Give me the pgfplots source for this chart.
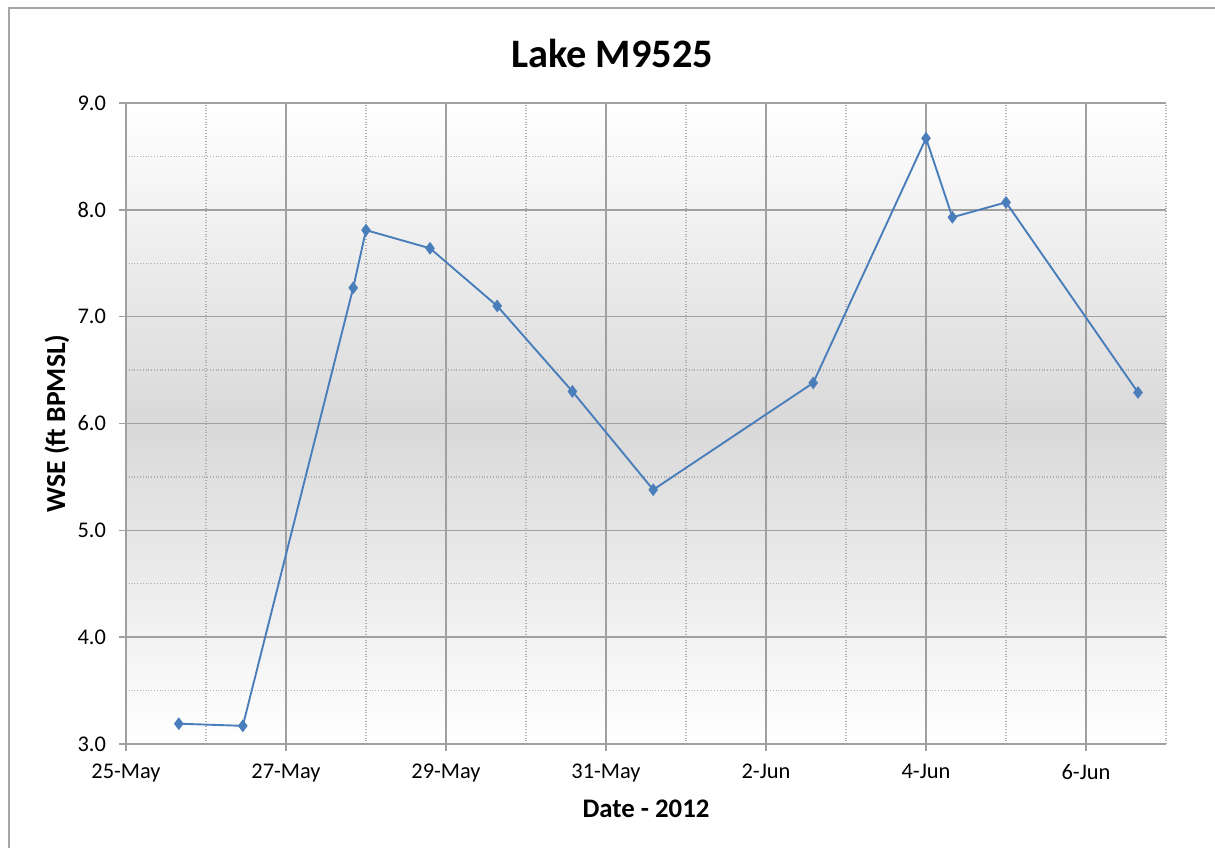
\documentclass[border=0pt]{standalone}
\usepackage{fontspec}
\setmainfont{Carlito}
\usepackage{pgfplots}
\pgfplotsset{compat=1.18}
\definecolor{serblue}{HTML}{4A7EBB}
\definecolor{majgrid}{HTML}{A0A0A0}
\definecolor{mingrid}{HTML}{B0B0B0}
\begin{document}
\begin{tikzpicture}[x=1pt,y=1pt]
\useasboundingbox (-63,-51.5) rectangle (544.5,372);
\draw[color=black!35, line width=1pt] (-58.5,-60) -- (-58.5,368) -- (560,368);
\begin{axis}[
  at={(0,0)}, anchor=south west,
  scale only axis, width=520pt, height=320.5pt,
  xmin=0, xmax=13, ymin=3, ymax=9,
  axis x line*=bottom, axis y line*=left,
  axis line style={majgrid, line width=0.9pt, -},
  xtick={0,2,...,12},
  xticklabels={25-May,27-May,29-May,31-May,2-Jun,4-Jun,6-Jun},
  minor xtick={1,3,...,13},
  ytick={3,4,...,9}, minor ytick={3.5,4.5,...,8.5},
  grid=both,
  major grid style={majgrid, line width=0.8pt},
  minor grid style={mingrid, densely dotted, line width=0.6pt},
  tick align=outside, major tick length=3.5pt, minor tick length=0pt,
  tick style={majgrid, line width=0.8pt},
  xticklabel style={font=\fontsize{11.2}{13}\selectfont, yshift=-3pt},
  yticklabel style={font=\fontsize{11.2}{13}\selectfont, xshift=-3pt,
    /pgf/number format/.cd, fixed, fixed zerofill, precision=1, assume math mode=true},
  xlabel={Date - 2012},
  ylabel={WSE (ft BPMSL)},
  xlabel style={at={(axis description cs:0.5,-0.1014)}, anchor=center, font=\bfseries\fontsize{13.4}{16}\selectfont},
  ylabel style={at={(axis description cs:-0.0663,0.5)}, anchor=center, font=\bfseries\fontsize{13.8}{16}\selectfont},
  axis background/.style={shade, top color=white, bottom color=white, middle color=black!15},
  clip=false,
]
\addplot[color=serblue, line width=0.95pt, mark=diamond*, mark size=2.8pt,
  mark options={fill=serblue, draw=serblue, line width=0.5pt}] coordinates {
  (0.66,3.19) (1.46,3.17) (2.84,7.27) (3.0,7.81) (3.80,7.64) (4.64,7.10)
  (5.58,6.30) (6.59,5.38) (8.59,6.38) (10.0,8.67) (10.33,7.93) (11.0,8.07)
  (12.65,6.29)
};
\end{axis}
\node[font=\bfseries\fontsize{20.2}{24}\selectfont] at (243,345.5) {Lake M9525};
\end{tikzpicture}
\end{document}
